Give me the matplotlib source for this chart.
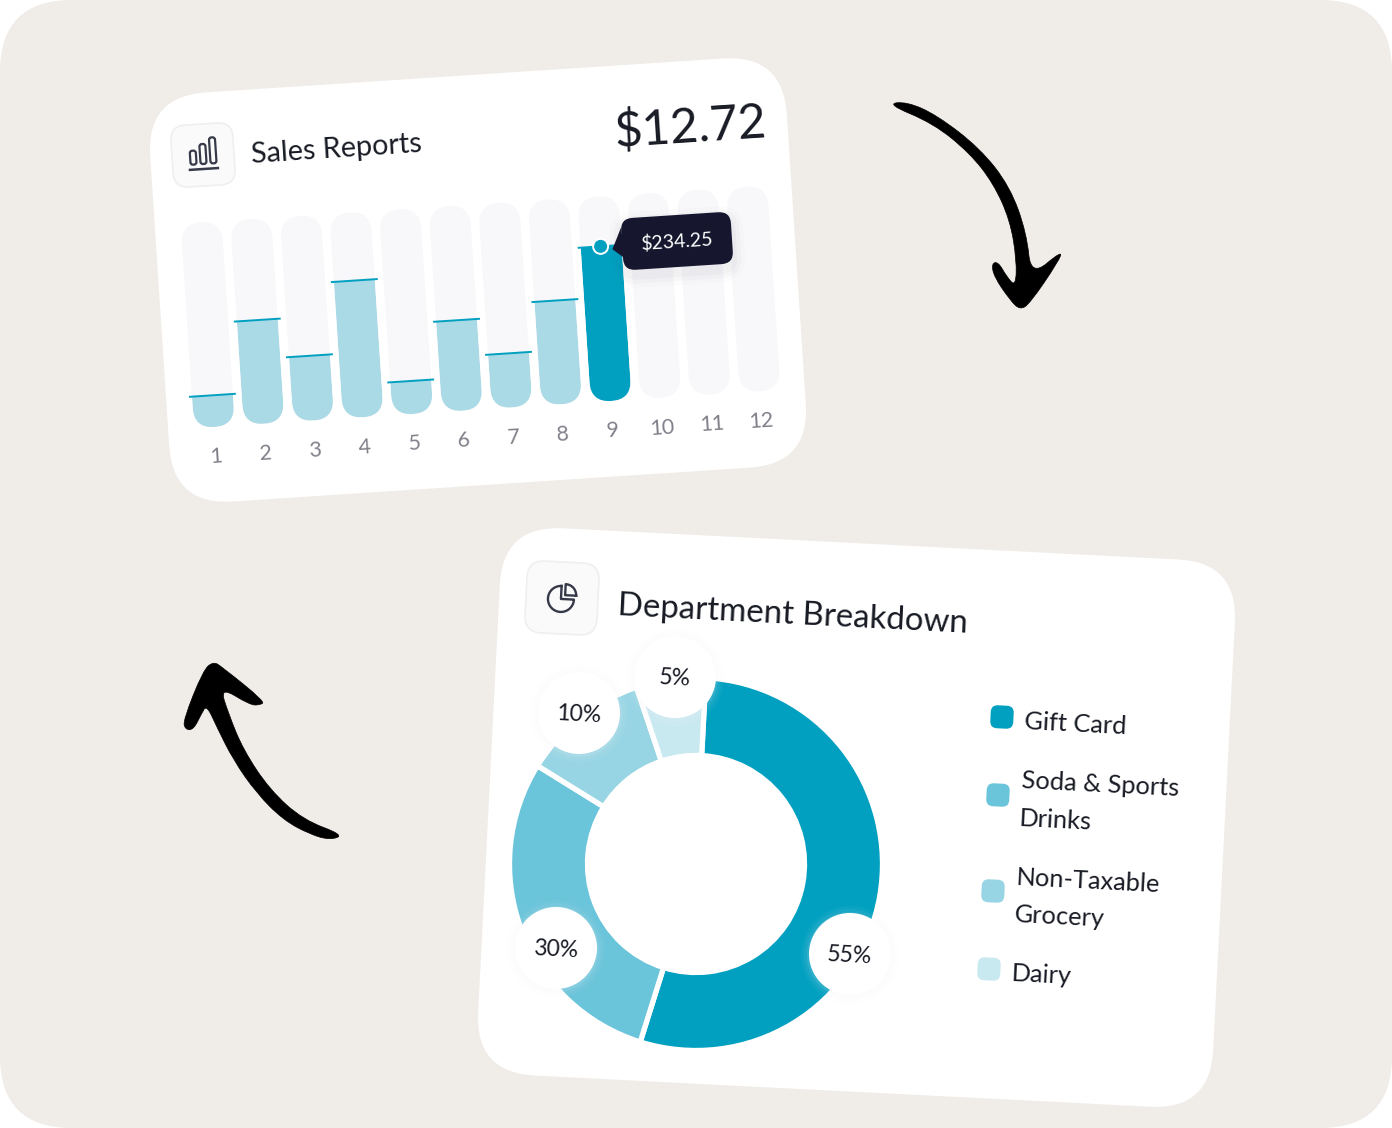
#!/usr/bin/python3

import numpy as np
import matplotlib
matplotlib.use("Agg")
import matplotlib.pyplot as plt
from matplotlib.patches import FancyBboxPatch, PathPatch, Circle, Polygon
from matplotlib.path import Path
from matplotlib.transforms import Affine2D

plt.rcParams['font.family'] = ['Lato', 'Open Sans', 'DejaVu Sans']

# sales card data
months = ['1', '2', '3', '4', '5', '6', '7', '8', '9', '10', '11', '12']
sales = [48, 157, 98, 207, 50, 137, 82, 157, 234.25]
track_max = 310
sales_total = '$12.72'

# department card data
departments = ['Gift Card', 'Soda & Sports\nDrinks', 'Non-Taxable\nGrocery', 'Dairy']
shares = [55, 30, 10, 5]            # printed on the badges
ring_sizes = [54, 29, 11, 6]        # what the ring arcs actually measure in the picture

# colours
bg_col = '#F0ECE8'
teal = '#02A0C0'
light_teal = '#ABDAE7'
track_col = '#F8F7F9'
ink = '#181A24'
grey = '#80808A'
dark_box = '#16172F'
pie_cols = [teal, '#6AC4DA', '#98D5E4', '#C9E9F1']

W, H = 1392, 1128
fig = plt.figure(figsize=(W / 100, H / 100), dpi=100, facecolor='white')


def canvas(zorder):
    # axes measured in image pixels, y pointing down
    a = fig.add_axes([0, 0, 1, 1], zorder=zorder)
    a.set_xlim(0, W)
    a.set_ylim(H, 0)
    a.autoscale(False)
    a.axis('off')
    a.patch.set_alpha(0)
    return a


def local(angle, cx, cy, a):
    return Affine2D().rotate_deg(angle).translate(cx, cy) + a.transData


def round_box(a, x, y, w, h, r, tf, **kw):
    p = FancyBboxPatch((x, y), w, h, boxstyle='round,pad=0,rounding_size=%g' % r,
                       transform=tf, **kw)
    a.add_patch(p)
    return p


def blob(a, pts, **kw):
    # closed shape smoothed through the midpoints of its outline
    pts = np.array(pts, dtype=float)
    mids = (pts + np.roll(pts, -1, axis=0)) / 2
    verts = [mids[-1]]
    codes = [Path.MOVETO]
    for p, m in zip(pts, mids):
        verts += [p, m]
        codes += [Path.CURVE3, Path.CURVE3]
    a.add_patch(PathPatch(Path(verts, codes), **kw))


ax = canvas(1)
top = canvas(3)

# page background
round_box(ax, 0, 0, W, H, 72, ax.transData, fc=bg_col, ec='none')

# hand drawn arrows
arrow_down = [(50, 72), (110, 65), (200, 105), (330, 205), (420, 320), (470, 460), (483, 590),
              (578, 510), (565, 545), (480, 670), (450, 690), (420, 660), (372, 590), (365, 550),
              (385, 546), (410, 590), (437, 620), (440, 540), (420, 420), (370, 310), (300, 220),
              (190, 130)]
arrow_up = [(130, 35), (155, 50), (285, 155), (270, 165), (240, 165), (150, 110), (175, 190),
            (220, 300), (300, 420), (400, 510), (522, 555), (480, 570), (420, 553), (340, 510),
            (260, 430), (190, 330), (140, 230), (110, 165), (95, 190), (70, 240), (45, 238),
            (40, 210), (100, 60)]
blob(ax, [(870 + x / 3, 80 + y / 3) for x, y in arrow_down], fc='black', ec='black', lw=0.5)
blob(ax, [(170 + x / 3, 650 + y / 3) for x, y in arrow_up], fc='black', ec='black', lw=0.5)

# ---- sales reports card ----
ang1 = -3.75
card1 = local(ang1, 478, 280, ax)
round_box(ax, -319, -205, 638, 410, 60, card1, fc='white', ec='none')

# icon box
ic1 = local(ang1, 203, 155, ax)
round_box(ax, -31, -31, 62, 62, 15, ic1, fc='#FBFAFB', ec='#F0EEF0', lw=1.2)
for bx, bh in zip([-10, 0, 10], [14, 20, 26]):
    round_box(ax, bx - 3, 9 - bh, 6, bh, 2.5, ic1, fc='none', ec='#363948', lw=1.6)
ax.plot([-14, 14], [14, 14], color='#363948', lw=1.8, transform=ic1)

ax.text(252, 163, 'Sales Reports', fontsize=20.7, color=ink, rotation=-ang1,
        rotation_mode='anchor', ha='left', va='baseline')
ax.text(615, 147, sales_total, fontsize=35, color=ink, rotation=-ang1,
        rotation_mode='anchor', ha='left', va='baseline')

# bars: local pixels, x along the tilted baseline, y going up the card
base = local(ang1, 214.5, 427, ax)
spacing = 49.7
bar_w = 41
px_per_dollar = 155 / 234.25
xs = np.arange(len(months)) * spacing

for i, m in enumerate(months):
    track = round_box(ax, xs[i] - bar_w / 2, -track_max * px_per_dollar, bar_w,
                      track_max * px_per_dollar, 20.5, base, fc=track_col, ec='none')
    if i < len(sales):
        col = teal if i == len(sales) - 1 else light_teal
        h = sales[i] * px_per_dollar
        bars = ax.bar(xs[i], -h, width=bar_w, bottom=0, color=col, transform=base)
        for b in bars:
            b.set_clip_path(track)
        ax.plot([xs[i] - bar_w / 2 - 2, xs[i] + bar_w / 2 + 2], [-h, -h], color=teal, lw=1.4,
                transform=base)
    ax.text(xs[i] - 0.5, 30, m, fontsize=15.5, color=grey, rotation=-ang1, rotation_mode='anchor',
            ha='center', va='center', transform=base)

# tooltip on the last filled month
last_h = sales[-1] * px_per_dollar
tip = local(ang1, 677, 241, ax)
for grow, al in zip([12, 8, 4], [0.012, 0.018, 0.025]):
    round_box(ax, -55 - grow, -26 - grow + 6, 110 + 2 * grow, 52 + 2 * grow, 13 + grow, tip,
              fc='#16172F', ec='none', alpha=al, zorder=3)
ax.add_patch(Polygon([(-55, -17), (-65, 4), (-53, 14)], closed=True, fc=dark_box, ec='none',
                     transform=tip, zorder=4))
round_box(ax, -55, -26, 110, 52, 12, tip, fc=dark_box, ec='none', zorder=4)
ax.text(0, 1, '$%.2f' % sales[-1], fontsize=14, color='white', rotation=-ang1,
        rotation_mode='anchor', ha='center', va='center', transform=tip, zorder=5)
ax.add_patch(Circle((xs[len(sales) - 1] - 0.5, -last_h), 7.5, fc=teal, ec='white', lw=1.4,
                    transform=base, zorder=5))

# ---- department breakdown card ----
ang2 = 2.9
card2 = local(ang2, 856.5, 817.5, ax)
round_box(ax, -368, -274, 736, 548, 60, card2, fc='white', ec='none')

ic2 = local(ang2, 562, 598, ax)
round_box(ax, -36, -36, 72, 72, 17, ic2, fc='#FBFAFB', ec='#F0EEF0', lw=1.2)
t = np.radians(np.linspace(90, 360, 60))
ax.plot(np.r_[-1 + 13 * np.cos(t), -1, -1], np.r_[1 - 13 * np.sin(t), 1, -12], color='#363948',
        lw=1.7, transform=ic2)
t = np.radians(np.linspace(0, 90, 20))
ax.plot(np.r_[3 + 11 * np.cos(t), 3, 14], np.r_[-3 - 11 * np.sin(t), -3, -3], color='#363948',
        lw=1.7, transform=ic2)

ax.text(617, 615, 'Department Breakdown', fontsize=23.8, color=ink, rotation=-ang2,
        rotation_mode='anchor', ha='left', va='baseline')

# donut, radii include the half of the white edge that covers the ring
cx, cy, r_out, r_in = 696, 864, 186.5, 108.5
pie_ax = fig.add_axes([(cx - r_out) / W, 1 - (cy + r_out) / H, 2 * r_out / W, 2 * r_out / H], zorder=2)
pie_ax.pie(ring_sizes, colors=pie_cols, startangle=87, counterclock=False, radius=1,
           wedgeprops=dict(width=1 - r_in / r_out, edgecolor='white', linewidth=3.8, clip_on=False))
pie_ax.set_xlim(-1, 1)
pie_ax.set_ylim(-1, 1)

# percent badges over the donut
badge_xy = [(850, 954), (556, 948), (579, 713), (675, 677)]
for (bx, by), s in zip(badge_xy, shares):
    for grow, al in zip([8, 5, 2], [0.04, 0.06, 0.10]):
        top.add_patch(Circle((bx, by + 1), 41 + grow, fc='#FBF8FB', ec='none', alpha=al))
    top.add_patch(Circle((bx, by), 41, fc='white', ec='none'))
    top.text(bx, by + 1.5, '%d%%' % s, fontsize=16.5, color=ink, rotation=-ang2,
             rotation_mode='anchor', ha='center', va='center')

# legend
swatch_xy = [(1002, 717), (998, 795), (993, 891), (989, 969)]
label_xy = [[(1024, 729)], [(1021, 788), (1019, 826)], [(1016, 885), (1014, 922)], [(1011, 981)]]
for (sx, sy), col, name, rows in zip(swatch_xy, pie_cols, departments, label_xy):
    round_box(ax, -11.5, -11.5, 23, 23, 7, local(ang2, sx, sy, ax), fc=col, ec='none')
    for (tx, ty), row in zip(rows, name.split('\n')):
        ax.text(tx, ty, row, fontsize=18.3, color=ink, rotation=-ang2, rotation_mode='anchor',
                ha='left', va='baseline')

fig.savefig('out.png', dpi=100, facecolor='white')
